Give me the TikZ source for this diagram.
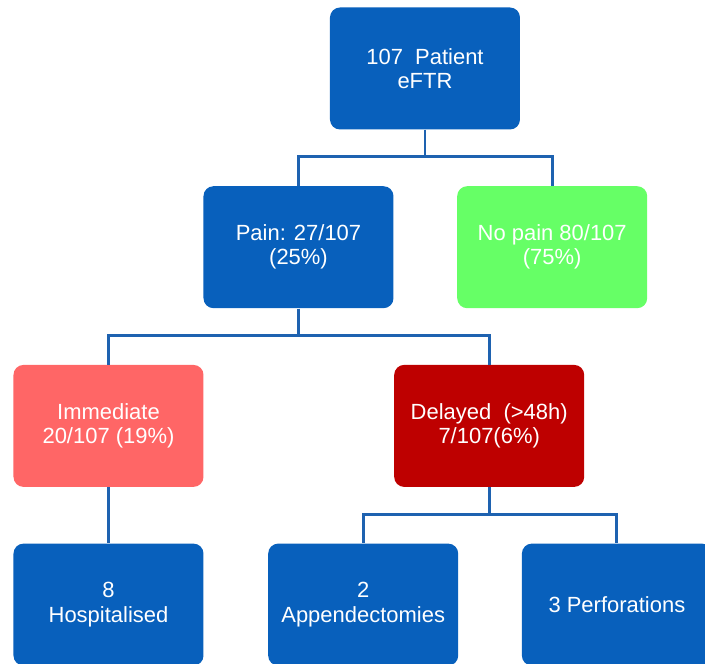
\documentclass[tikz,border=0pt]{standalone}
\usepackage{fontspec}
\setmainfont{Liberation Sans}
\usepackage{xcolor}
\usepackage{tikz}
\usetikzlibrary{shapes.geometric, arrows, positioning}
\definecolor{boxblue}{RGB}{8,96,188}
\definecolor{linkblue}{RGB}{30,98,176}
\definecolor{boxgreen}{RGB}{102,255,102}
\definecolor{boxpink}{RGB}{255,102,102}
\definecolor{boxred}{RGB}{190,0,0}
\tikzstyle{box} = [rectangle, rounded corners=0.2cm, minimum width=3.8cm, minimum height=2.44cm, align=center, text=white, inner sep=2pt, font={\fontsize{12.5}{13.7}\selectfont}]
\tikzstyle{bluebox} = [box, fill=boxblue]
\tikzstyle{greenbox} = [box, fill=boxgreen]
\tikzstyle{pinkbox} = [box, fill=boxpink]
\tikzstyle{redbox} = [box, fill=boxred]
\tikzstyle{link} = [line width=1.7pt, draw=linkblue]

\begin{document}
\begin{tikzpicture}[node distance=1.12cm]
    \useasboundingbox (-8.5,1.37) rectangle (5.6,-11.91);
    % Define blocks
    \node (patients) [bluebox] {107~ Patient\\eFTR};
    \node (pain) [bluebox, below=1.12cm of patients, xshift=-2.53cm] {Pain: 27/107\\(25\%)};
    \node (nopain) [greenbox, right=1.26cm of pain] {No pain 80/107\\(75\%)};
    \node (immediate) [pinkbox, below=1.12cm of pain, xshift=-3.8cm] {Immediate\\20/107 (19\%)};
    \node (delayed) [redbox, right=3.8cm of immediate] {Delayed~ (>48h)\\7/107(6\%)};
    \node (hosp) [bluebox, below=1.12cm of immediate] {8\\Hospitalised};
    \node (append) [bluebox, below=1.12cm of delayed, xshift=-2.52cm] {2\\Appendectomies};
    \node (perf) [bluebox, right=1.26cm of append] {3 Perforations};

    % Draw links
    \draw [link] (patients.south) -- ++(0,-0.54) -| (pain.north);
    \draw [link] (patients.south) -- ++(0,-0.54) -| (nopain.north);
    \draw [link] (pain.south) -- ++(0,-0.54) -| (immediate.north);
    \draw [link] (pain.south) -- ++(0,-0.54) -| (delayed.north);
    \draw [link] (immediate) -- (hosp);
    \draw [link] (delayed.south) -- ++(0,-0.54) -| (append.north);
    \draw [link] (delayed.south) -- ++(0,-0.54) -| (perf.north);
\end{tikzpicture}
\end{document}
